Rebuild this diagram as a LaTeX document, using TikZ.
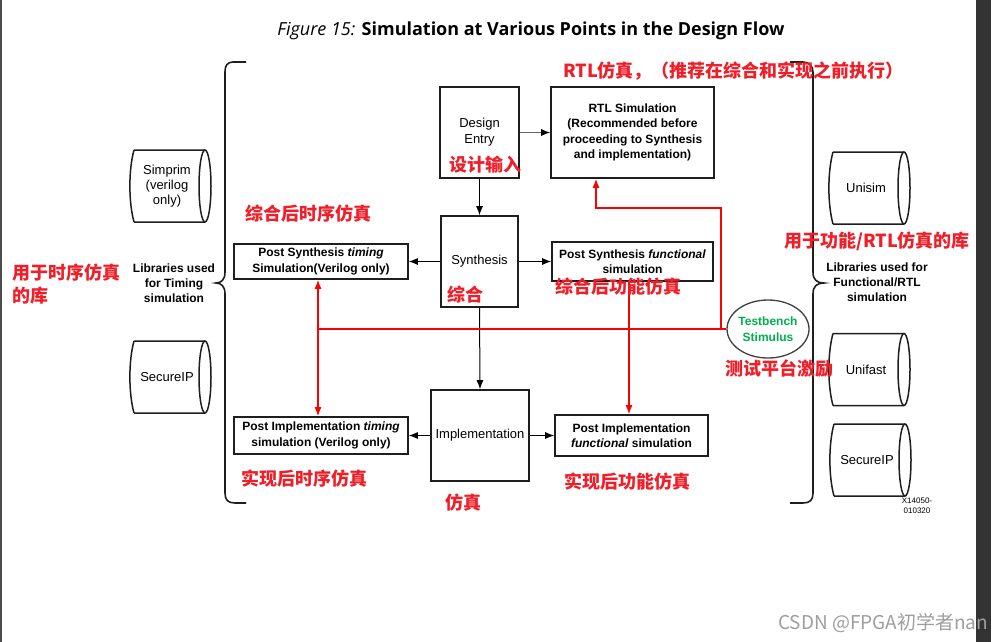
\documentclass[tikz,border=0pt]{standalone}
\usepackage{fontspec}
\setmainfont{Liberation Sans}
\newfontfamily\cjk{Noto Sans CJK SC}
\newfontfamily\titlefont{Open Sans}
\usetikzlibrary{arrows.meta,calc,shapes.geometric}
\definecolor{redc}{RGB}{240,30,40}
\definecolor{greenc}{RGB}{0,176,80}
\definecolor{linec}{RGB}{30,30,30}
\newcommand{\drawcyl}[1]{%
  \draw[cylline] ($(#1.center)+(-33,-36)$) -- ($(#1.center)+(38,-36)$)
     ($(#1.center)+(-33,36)$) -- ($(#1.center)+(38,36)$)
     ($(#1.center)+(-33,-36)$) .. controls ($(#1.center)+(-38.5,-16)$) and ($(#1.center)+(-38.5,16)$) .. ($(#1.center)+(-33,36)$);
  \draw[cylline] ($(#1.center)+(38,0)$) ellipse [x radius=6, y radius=36];
}
\begin{document}
\begin{tikzpicture}[x=1pt,y=-1pt,
  box/.style={draw=linec, line width=1.6pt, inner sep=0pt, align=center, font=\fontsize{12}{15.5}\selectfont\bfseries},
  procbox/.style={draw=linec, line width=1.6pt, inner sep=0pt, align=center, font=\fontsize{13}{16}\selectfont},
  cyltext/.style={inner sep=0pt, align=center, font=\fontsize{13}{15}\selectfont},
  cylline/.style={draw=linec, line width=1.5pt},
  arr/.style={-{Latex[length=9pt,width=7pt,color=black]}, line width=1pt, draw=black},
  redarr/.style={-{Latex[length=9pt,width=7pt]}, line width=1.2pt, draw=red},
  redline/.style={line width=1.2pt, draw=red},
  redlabel/.style={anchor=west, inner sep=0pt, text=redc, font=\cjk\bfseries\fontsize{18}{23}\selectfont, align=left},
  brace/.style={draw=linec, line width=1.6pt},
  lib/.style={align=center, inner sep=0pt, font=\fontsize{12}{15}\selectfont\bfseries},
]
\useasboundingbox (0,0) rectangle (1001,642);
\fill[white] (0,0) rectangle (1001,642);
\fill[black!80] (976,0) rectangle (991,642);
\draw[black!70, line width=1.5pt] (0.75,0) -- (0.75,642);

% title
\node[font=\titlefont\fontsize{18}{22}\selectfont] (title) at (531,31) {\textit{Figure 15:} \textbf{Simulation at Various Points in the Design Flow}};

% braces
\draw[brace] (246,62) -- (233,62) .. controls (227,62) and (225,66) .. (225,72) -- (225,272) .. controls (225,280) and (221,283) .. (216,283) .. controls (221,283) and (225,286) .. (225,294) -- (225,493) .. controls (225,500) and (228,503) .. (235,503) -- (246,503);
\draw[brace] (790,62) -- (803,62) .. controls (809,62) and (813,66) .. (813,72) -- (813,272) .. controls (813,280) and (817,283) .. (824,283) .. controls (817,283) and (813,286) .. (813,294) -- (813,493) .. controls (813,500) and (810,503) .. (803,503) -- (790,503);

% cylinders
\node[cyltext] (simprim) at (167,186) {Simprim\\(verilog\\only)};
\node[cyltext] (lsec) at (167,377) {SecureIP};
\node[cyltext] (unisim) at (866,188) {Unisim};
\node[cyltext] (unifast) at (866,369.5) {Unifast};
\node[cyltext] (rsec) at (867,460) {SecureIP};
\drawcyl{simprim}
\drawcyl{lsec}
\drawcyl{unisim}
\drawcyl{unifast}
\drawcyl{rsec}

\node[lib] (libt) at (174,283) {Libraries used\\for Timing\\simulation};
\node[lib] (libf) at (877,282) {Libraries used for\\Functional/RTL\\simulation};

% boxes
\node[procbox, minimum width=79pt, minimum height=91pt] (de) at (479.5,132.5) {Design\\Entry};
\node[box, minimum width=163pt, minimum height=91pt] (rtl) at (632.5,132.5) {RTL Simulation\\(Recommended before\\proceeding to Synthesis\\and implementation)};
\node[procbox, minimum width=77pt, minimum height=91pt] (syn) at (479.5,261.5) {Synthesis};
\node[box, minimum width=174pt, minimum height=35pt] (pst) at (321,261.5) {Post Synthesis \textit{timing}\\Simulation(Verilog only)};
\node[box, minimum width=161pt, minimum height=39pt] (psf) at (632.5,261.5) {Post Synthesis \textit{functional}\\simulation};
\node[procbox, minimum width=98pt, minimum height=91pt] (impl) at (480,435.5) {Implementation};
\node[box, minimum width=174pt, minimum height=37pt] (pit) at (321,435.5) {Post Implementation \textit{timing}\\simulation (Verilog only)};
\node[box, minimum width=153pt, minimum height=41pt] (pif) at (631.5,435.5) {Post Implementation\\\textit{functional} simulation};

% black arrows
\draw[arr, draw=black!60] (de.east) -- (rtl.west);
\draw[arr] (de.south) -- (syn.north);
\draw[arr] (syn.west) -- (pst.east);
\draw[arr] (syn.east) -- (psf.west);
\draw[arr] (syn.south) -- (impl.north);
\draw[arr] (impl.west) -- (pit.east);
\draw[arr] (impl.east) -- (pif.west);

% testbench
\node[ellipse, draw=black!75, line width=1.3pt, minimum width=82pt, minimum height=58pt, inner sep=0pt] (tb) at (768,329) {};
\node[align=center, inner sep=0pt, text=greenc, font=\fontsize{12}{16}\selectfont\bfseries] (tbt) at (tb.center) {Testbench\\Stimulus};

% red network
\coordinate (j1) at (318,329);
\coordinate (j2) at (721,329);
\coordinate (j3) at (596,208);
\draw[redline] (tb.west) -- (j1);
\draw[redarr] (j1) -- (j1 |- pst.south);
\draw[redarr] (j1) -- (j1 |- pit.north);
\draw[redarr] (j2) |- (j3) -- (j3 |- rtl.south);
\draw[redarr] ([xshift=-3.5pt]psf.south) -- ([xshift=-3.5pt]psf.south |- pif.north);

% red labels
\node[redlabel] (l1) at (563,71) {RTL仿真，（推荐在综合和实现之前执行）};
\node[redlabel] (l2) at (245,214) {综合后时序仿真};
\node[redlabel] (l3) at (12,284.5) {用于时序仿真\\的库};
\node[redlabel] (l4) at (449,165) {设计输入};
\node[redlabel] (l5) at (447,295) {综合};
\node[redlabel] (l6) at (555,287) {综合后功能仿真};
\node[redlabel] (l7) at (784,241) {用于功能/RTL仿真的库};
\node[redlabel] (l8) at (725,369) {测试平台激励};
\node[redlabel] (l9) at (241,479) {实现后时序仿真};
\node[redlabel] (l10) at (445,503) {仿真};
\node[redlabel] (l11) at (564,482) {实现后功能仿真};

\node[font=\fontsize{8}{10}\selectfont, align=center, inner sep=0pt] (xid) at (917,506) {X14050-\\010320};
\node[anchor=west, inner sep=0pt, text=black!38, font=\cjk\fontsize{19}{20}\selectfont] (wm) at (778,623) {CSDN @FPGA初学者nan};
\end{tikzpicture}
\end{document}
